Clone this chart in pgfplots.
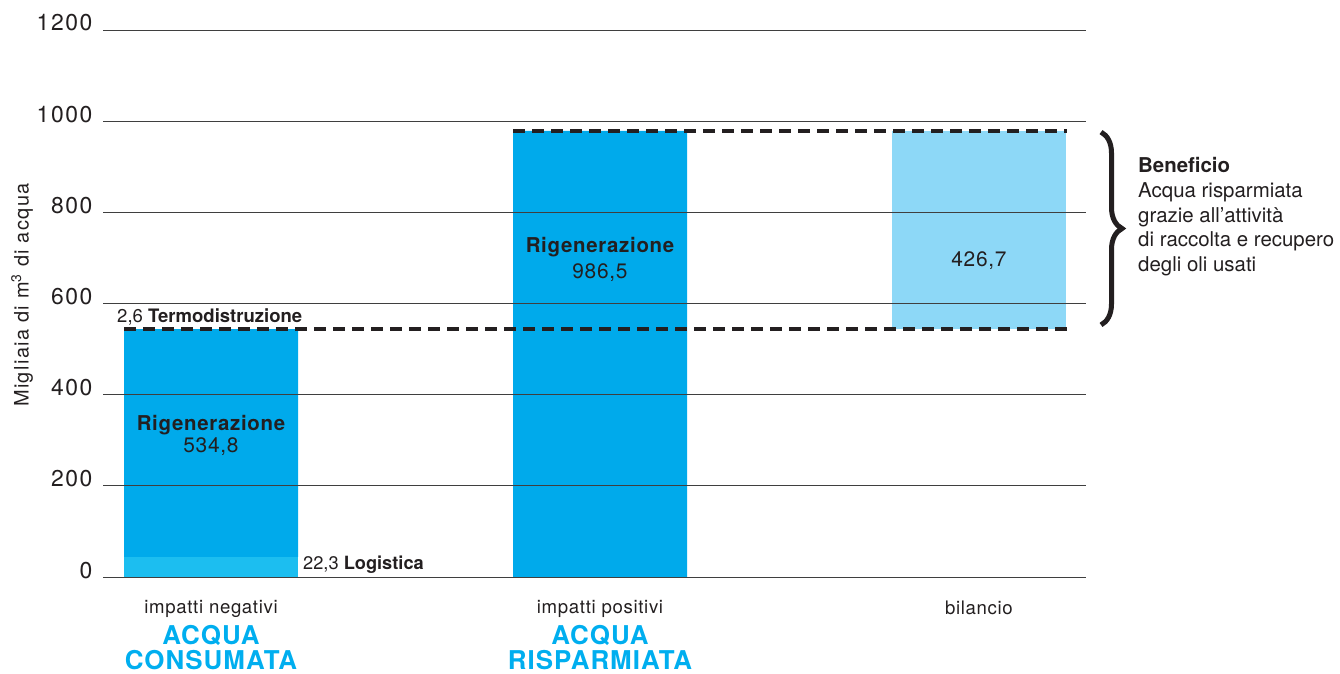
\documentclass[border=0pt]{standalone}
\usepackage{pgfplots}
\pgfplotsset{compat=1.18}
\usepackage{fontspec}
\setmainfont{TeX Gyre Heros}
\newfontfamily\spA[LetterSpace=4]{TeX Gyre Heros}
\newfontfamily\spB[LetterSpace=3.5]{TeX Gyre Heros}
\newfontfamily\spC[LetterSpace=7]{TeX Gyre Heros}
\usetikzlibrary{decorations.pathreplacing}
\definecolor{barblue}{HTML}{00AAEB}
\definecolor{logblue}{HTML}{1CBEF0}
\definecolor{ltblue}{HTML}{8DD8F7}
\definecolor{txtblue}{HTML}{00AEEF}
\definecolor{txt}{HTML}{231F20}
\definecolor{gridc}{HTML}{3F3F3F}
\newcommand{\blue}[1]{{\spA\bfseries\fontsize{26}{26}\selectfont\color{txtblue}#1}}
\begin{document}
\begin{tikzpicture}
\path[use as bounding box] (0,0) rectangle (1340bp,674bp);
\begin{axis}[
  at={(103bp,97bp)}, anchor=south west,
  scale only axis, width=983bp, height=547bp,
  xmin=103, xmax=1086, ymin=0, ymax=1200,
  ybar stacked, bar width=174,
  clip=false, axis on top,
  axis line style={draw=none},
  major tick length=0pt,
  ytick={0,200,400,600,800,1000,1200},
  ymajorgrids, grid style={gridc, line width=0.9bp},
  /pgf/number format/1000 sep={},
  /pgf/number format/assume math mode=true,
  yticklabel style={font=\spC\fontsize{23}{23}\selectfont, text=txt, anchor=base east, xshift=-7bp, yshift=-1bp},
  ylabel={Migliaia di m\textsuperscript{3} di acqua},
  every axis y label/.style={at={(axis description cs:-0.0824,0.5155)}, rotate=90, anchor=center, font=\spC\fontsize{20}{20}\selectfont, text=txt},
  xtick={211,600,979},
  xticklabels={{impatti negativi\\[6bp]\blue{ACQUA}\\\blue{CONSUMATA}},
               {impatti positivi\\[6bp]\blue{ACQUA}\\\blue{RISPARMIATA}},
               {bilancio}},
  xticklabel style={font=\spB\fontsize{18.7}{25}\selectfont, text=txt, align=center, anchor=north, yshift=-20bp},
]
% Logistica
\addplot[fill=logblue, draw=none] coordinates {(211,44) (600,0) (979,0)};
% Rigenerazione
\addplot[fill=barblue, draw=none] coordinates {(211,497.4) (600,978.5) (979,0)};
% Termodistruzione
\addplot[fill=barblue, draw=none] coordinates {(211,2.6) (600,0) (979,0)};
% invisible base for bilancio
\addplot[fill=none, draw=none] coordinates {(211,0) (600,0) (979,544)};
% Bilancio
\addplot[fill=ltblue, draw=none] coordinates {(211,0) (600,0) (979,434.5)};

\coordinate (d1a) at (axis cs:124,544);
\coordinate (d1b) at (axis cs:1067,544);
\coordinate (d2a) at (axis cs:513,978.5);
\coordinate (d2b) at (axis cs:1067,978.5);
\coordinate (r1) at (axis cs:211,322);
\coordinate (v1) at (axis cs:211,274);
\coordinate (r2) at (axis cs:600,711);
\coordinate (v2) at (axis cs:600,654);
\coordinate (v3) at (axis cs:979,682);
\coordinate (term) at (axis cs:117,559);
\coordinate (logi) at (axis cs:303,17.5);
\coordinate (bra) at (axis cs:1101,976);
\coordinate (brb) at (axis cs:1101,553);
\coordinate (ben) at (axis cs:1138,669.5);
\end{axis}

\draw[txt, line width=4bp, dash pattern=on 12bp off 7bp] (d1a) -- (d1b);
\draw[txt, line width=4bp, dash pattern=on 12bp off 7bp] (d2a) -- (d2b);

\node[anchor=base, text=txt, font=\spB\fontsize{20.5}{20.5}\selectfont\bfseries] at (r1) {Rigenerazione};
\node[anchor=base, text=txt, font=\spB\fontsize{21}{21}\selectfont] at (v1) {534,8};
\node[anchor=base, text=txt, font=\spB\fontsize{20.5}{20.5}\selectfont\bfseries] at (r2) {Rigenerazione};
\node[anchor=base, text=txt, font=\spB\fontsize{21}{21}\selectfont] at (v2) {986,5};
\node[anchor=base, text=txt, font=\spB\fontsize{21}{21}\selectfont] at (v3) {426,7};
\node[anchor=base west, inner xsep=0pt, text=txt, font=\fontsize{18.6}{18.6}\selectfont] at (term) {2,6 \textbf{Termodistruzione}};
\node[anchor=base west, inner xsep=0pt, text=txt, font=\fontsize{18.3}{18.3}\selectfont] at (logi) {22,3 \textbf{Logistica}};

\draw[txt, line width=5bp, decorate, decoration={brace, amplitude=21bp}] (bra) -- (brb);

\node[anchor=base west, inner xsep=0pt, text=txt, font=\fontsize{20.5}{25}\selectfont, align=left] at (ben)
  {\textbf{Beneficio}\\Acqua risparmiata\\grazie all’attività\\di raccolta e recupero\\degli oli usati};
\end{tikzpicture}
\end{document}
